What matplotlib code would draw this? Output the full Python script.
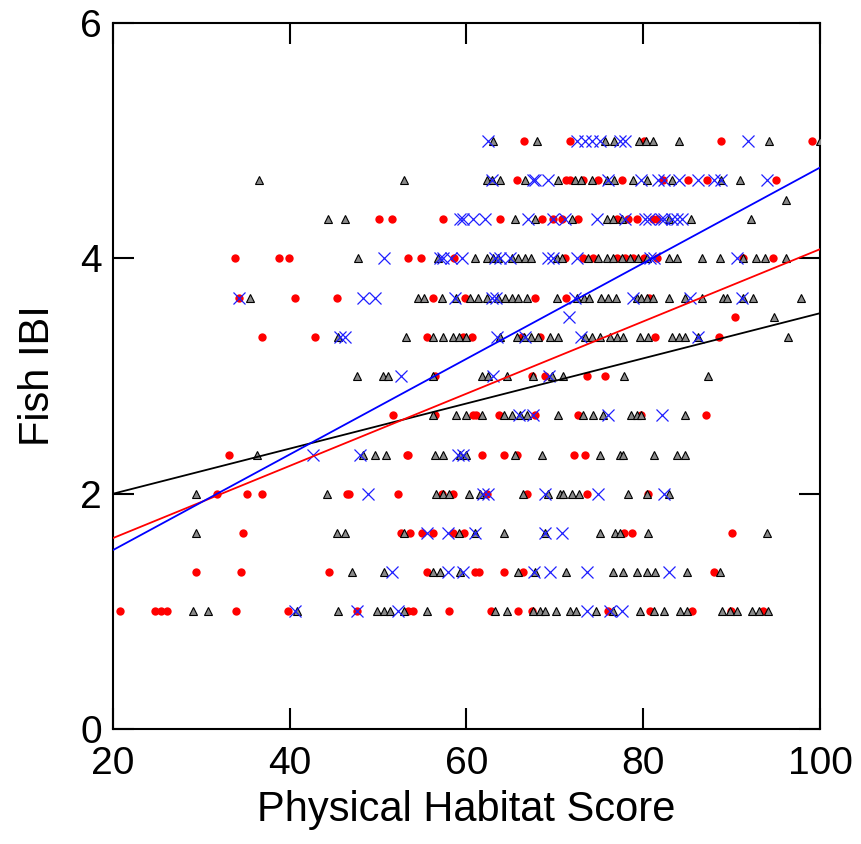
import matplotlib
matplotlib.use("Agg")
import matplotlib.pyplot as plt
import numpy as np

plt.rcParams['font.family'] = ['Liberation Sans', 'DejaVu Sans']

# --- data (x = habitat score, keyed by Fish IBI level) ---
tri_rows = {
    5.0: [63.0, 68.0, 75.7, 76.7, 79.5, 80.3, 81.1, 84.0, 94.2, 100.0],
    4.667: [36.5, 52.9, 62.3, 62.9, 63.8, 66.6, 70.4, 72.3, 73.0, 74.2, 75.9, 76.7,
            78.8, 80.4, 83.3, 88.8, 90.9],
    4.5: [96.2],
    4.333: [44.3, 46.3, 65.5, 67.8, 71.9, 75.9, 76.6, 77.6, 82.9, 85.4, 92.2],
    4.0: [47.7, 56.8, 61.0, 62.3, 63.0, 63.6, 65.1, 65.8, 66.6, 67.3, 70.2, 70.8,
          73.7, 74.9, 75.9, 76.6, 77.6, 78.5, 79.4, 80.4, 82.9, 83.8, 86.6, 88.7,
          91.3, 92.8, 93.8, 96.1],
    3.667: [35.5, 54.5, 55.2, 57.2, 58.8, 60.4, 61.3, 62.3, 63.6, 64.4, 65.1, 65.8,
            66.8, 70.2, 72.5, 73.3, 73.9, 75.2, 76.0, 76.9, 79.3, 79.8, 80.4, 81.1,
            82.9, 84.7, 86.6, 89.0, 89.5, 91.3, 92.4, 97.8],
    3.5: [94.8],
    3.333: [45.5, 53.1, 56.2, 57.3, 58.5, 59.1, 60.0, 63.8, 65.7, 66.5, 67.3, 68.1,
            69.5, 70.4, 73.4, 74.2, 75.1, 76.2, 77.0, 77.7, 79.6, 80.5, 83.2, 84.0,
            84.7, 86.2, 96.4],
    3.0: [47.6, 50.5, 51.1, 56.2, 61.7, 62.4, 64.6, 67.5, 69.7, 70.9, 77.8, 87.3],
    2.667: [56.2, 58.8, 60.0, 61.7, 64.3, 65.2, 66.0, 66.9, 70.4, 73.2, 74.3, 75.5,
            78.6, 79.3, 79.8, 84.7],
    2.333: [36.3, 48.3, 49.6, 50.9, 56.4, 57.3, 59.3, 60.0, 65.5, 68.6, 75.1, 77.4,
            77.7, 81.2, 83.8, 84.7],
    2.0: [29.4, 44.2, 56.5, 57.3, 58.0, 60.3, 61.5, 66.4, 69.2, 70.6, 70.9, 71.9,
          72.7, 78.3, 80.4, 82.9],
    1.667: [29.4, 45.3, 46.2, 52.9, 59.1, 61.0, 64.2, 68.9, 75.1, 76.8, 77.4, 80.5, 94.0],
    1.333: [47.0, 50.7, 56.2, 57.0, 59.3, 65.8, 67.8, 71.3, 76.6, 77.7, 79.3, 80.4,
            81.3, 85.0, 88.7],
    1.0: [29.0, 30.7, 40.8, 45.5, 49.9, 50.7, 51.4, 52.9, 55.5, 63.2, 64.6, 67.5,
          68.3, 68.9, 70.1, 71.7, 72.4, 74.6, 76.6, 79.6, 81.2, 82.4, 84.2, 85.0,
          88.9, 89.8, 90.6, 92.3, 93.1, 94.1],
}

red_rows = {
    5.0: [66.5, 71.7, 80.1, 88.8, 99.1],
    4.667: [65.7, 71.3, 71.7, 73.2, 74.9, 77.6, 82.2, 85.1, 87.2, 95.0],
    4.333: [50.1, 51.6, 57.3, 63.8, 68.6, 69.8, 70.8, 72.6, 77.0, 78.3, 79.3, 81.1, 81.5],
    4.0: [33.8, 38.8, 39.9, 53.4, 54.8, 58.6, 71.2, 73.2, 74.3, 77.0, 77.9, 78.8,
          80.1, 81.5, 91.3, 94.7],
    3.667: [34.3, 40.6, 45.3, 56.2, 59.8, 67.8, 71.3, 80.7],
    3.5: [90.4],
    3.333: [36.9, 42.9, 55.5, 59.6, 60.6, 66.3, 68.3, 81.3, 88.6],
    3.0: [56.4, 67.4, 68.9, 73.6, 75.7],
    2.667: [51.7, 56.4, 60.7, 61.1, 63.7, 67.8, 72.6, 79.8, 87.1],
    2.333: [33.1, 53.3, 53.4, 61.7, 64.2, 65.7, 72.2, 73.4],
    2.0: [31.8, 35.2, 36.9, 46.5, 46.7, 52.3, 57.2, 58.5, 62.3, 66.8, 73.6, 80.5],
    1.667: [34.7, 52.6, 53.6, 55.0, 56.2, 58.5, 59.7, 77.8, 78.7, 90.0],
    1.333: [29.4, 34.5, 44.4, 55.5, 61.0, 61.4, 64.2, 66.4, 88.0],
    1.0: [20.8, 24.8, 25.4, 26.1, 33.9, 39.8, 47.6, 53.4, 53.9, 58.0, 62.8, 65.8,
          67.4, 76.0, 80.8, 85.5, 89.9, 93.5],
}

blue_rows = {
    5.0: [62.4, 72.5, 73.4, 74.2, 75.1, 77.4, 77.9, 91.8],
    4.667: [62.9, 67.5, 67.8, 69.2, 76.0, 79.8, 81.7, 82.4, 84.0, 86.2, 88.0, 88.8, 94.0],
    4.333: [59.3, 59.6, 60.7, 62.1, 67.0, 69.8, 71.2, 74.8, 77.9, 80.2, 80.6, 82.0,
            82.4, 83.3, 83.8, 84.4],
    4.0: [50.7, 57.0, 57.3, 58.3, 59.5, 63.2, 63.8, 64.9, 69.2, 69.8, 72.5, 80.8, 81.2, 90.6],
    3.667: [34.3, 48.3, 49.6, 58.7, 62.9, 63.3, 72.3, 78.8, 85.3, 91.2],
    3.5: [71.6],
    3.333: [45.7, 46.3, 63.4, 66.6, 73.0, 86.2],
    3.0: [52.6, 63.0, 69.3],
    2.667: [65.9, 67.5, 76.0, 82.1],
    2.333: [42.6, 47.9, 59.0, 59.6],
    2.0: [48.8, 61.9, 62.4, 68.9, 74.9, 82.4],
    1.667: [55.5, 57.9, 61.0, 68.9, 70.8],
    1.333: [51.6, 57.9, 59.6, 67.6, 69.4, 73.6, 82.9],
    1.0: [40.6, 47.6, 52.3, 73.6, 76.2, 77.6],
}

# fitted lines (intercept, slope)
fit_black = (1.616, 0.01918)
fit_red = (1.009, 0.03069)
fit_blue = (0.708, 0.04064)


def flatten(rows):
    xs, ys = [], []
    for level, vals in rows.items():
        xs += vals
        ys += [level] * len(vals)
    return np.array(xs), np.array(ys)


fig = plt.figure(figsize=(8.61, 8.44), dpi=100)
ax = fig.add_axes([0.1312, 0.1362, 0.8212, 0.8365])

rx, ry = flatten(red_rows)
ax.plot(rx, ry, 'o', color='#ff0000', markersize=6, markeredgewidth=0, zorder=2)

tx, ty = flatten(tri_rows)
ax.plot(tx, ty, '^', markerfacecolor='#8a8a8a', markeredgecolor='black',
        markersize=6, markeredgewidth=0.8, zorder=3)

bx, by = flatten(blue_rows)
ax.plot(bx, by, 'x', color='#1f1fff', markersize=8, markeredgewidth=0.9, zorder=4)

xline = np.array([20, 100])
for (b0, b1), c in [(fit_black, 'black'), (fit_red, '#ff0000'), (fit_blue, '#0000ff')]:
    ax.plot(xline, b0 + b1 * xline, color=c, linewidth=1.3, zorder=5)

ax.set_xlim(20, 100)
ax.set_ylim(0, 6)
ax.set_xticks([20, 40, 60, 80, 100])
ax.set_yticks([0, 2, 4, 6])
ax.tick_params(direction='in', length=15, width=1.5, top=True, right=True,
               labelsize=28)
ax.tick_params(axis='x', pad=12)
ax.tick_params(axis='y', pad=8)
for s in ax.spines.values():
    s.set_linewidth(1.5)

ax.set_xlabel("Physical Habitat Score", fontsize=30, labelpad=6)
ax.set_ylabel("Fish IBI", fontsize=30, labelpad=16)

fig.savefig("out.png", dpi=100)
